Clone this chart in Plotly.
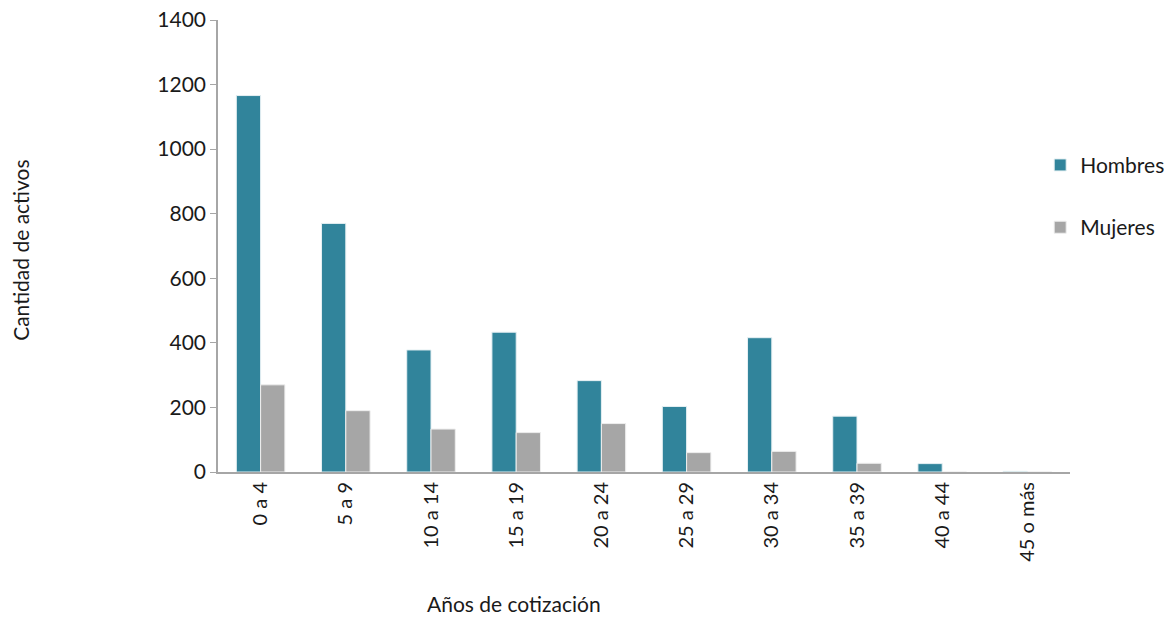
import plotly.graph_objects as go

categorias = ["0 a 4", "5 a 9", "10 a 14", "15 a 19", "20 a 24",
              "25 a 29", "30 a 34", "35 a 39", "40 a 44", "45 o más"]
hombres = [1166, 770, 378, 433, 283, 203, 416, 173, 26, 2]
mujeres = [270, 190, 133, 122, 150, 60, 64, 27, 0, 0]

FONT = "Lato, 'Open Sans', sans-serif"
AXIS_GRAY = "#a6a6a6"

fig = go.Figure(
    data=[
        go.Bar(name="Hombres", x=categorias, y=hombres,
               marker=dict(color="#31849b", line=dict(color="#e6f0f3", width=1)),
               legendgroup="h"),
        go.Bar(name="Mujeres", x=categorias, y=mujeres,
               marker=dict(color="#a6a6a6", line=dict(color="#eeeeee", width=1)),
               legendgroup="m"),
    ]
)

fig.update_layout(
    width=1172, height=617,
    margin=dict(l=210, r=110, t=12, b=153, autoexpand=False),
    plot_bgcolor="white", paper_bgcolor="white",
    font=dict(family=FONT, size=21, color="#1a1a1a"),
    barmode="group", bargap=0.43, bargroupgap=0,
    legend=dict(x=0.965, xanchor="left", y=0.61, yanchor="middle",
                tracegroupgap=32, font=dict(size=21),
                itemwidth=30, bgcolor="rgba(0,0,0,0)"),
    annotations=[
        dict(text="Cantidad de activos", xref="paper", yref="paper",
             x=-0.249, y=0.49, textangle=-90, showarrow=False,
             font=dict(size=21)),
        dict(text="Años de cotización", xref="paper", yref="paper",
             x=0.348, y=-0.324, showarrow=False, font=dict(size=21)),
    ],
)

fig.update_yaxes(range=[0, 1400], dtick=200, showgrid=False,
                 showline=True, linecolor=AXIS_GRAY, linewidth=1.5,
                 ticks="outside", ticklen=6, tickcolor=AXIS_GRAY,
                 zeroline=False, tickfont=dict(size=21),
                 ticklabeloverflow="allow")
fig.update_xaxes(showline=True, linecolor=AXIS_GRAY, linewidth=2,
                 ticks="", tickangle=-90, tickfont=dict(size=20),
                 showgrid=False)

fig.write_html("out.html")
